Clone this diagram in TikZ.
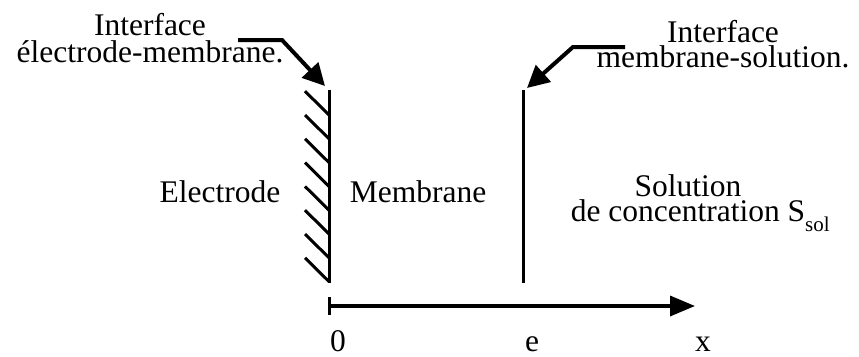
\documentclass[tikz,border=0pt]{standalone}
\usepackage{fontspec}
\setmainfont{Liberation Serif}
\usetikzlibrary{arrows.meta, positioning}

\begin{document}
\begin{tikzpicture}[
        x=1pt, y=-1pt,
        every node/.style={font=\fontsize{31.5}{26}\selectfont, inner sep=0pt},
        caption/.style={align=center, anchor=north},
        region/.style={anchor=base},
        wall/.style={line width=3pt},
        hatch/.style={line width=3pt},
        pointer/.style={-{Triangle[length=22pt,width=22pt]}, line width=4pt},
        axis/.style={-{Triangle[length=25pt,width=20pt]}, line width=3.5pt}
    ]
        \useasboundingbox (0,0) rectangle (859,356);

        % Interfaces
        \coordinate (elecTop) at (329,90);
        \coordinate (elecBot) at (329,283);
        \coordinate (membTop) at (523,90);
        \coordinate (membBot) at (523,283);
        \draw[wall] (elecTop) -- (elecBot);
        \draw[wall] (membTop) -- (membBot);
        \foreach \k in {0,...,7}
            \draw[hatch] (305,{91.2+23.8*\k}) -- (329,{115+23.8*\k});

        % Nodes
        \node[caption, font=\fontsize{31.5}{27}\selectfont] (ifaceElec) at (150,13) {Interface\\électrode-membrane.};
        \node[caption, font=\fontsize{31.5}{25}\selectfont] (ifaceSol) at (723,20) {Interface\\membrane-solution.};
        \node[region] (electrode) at (220,202) {Electrode};
        \node[region] (membrane) at (418,202) {Membrane};
        \node[caption, font=\fontsize{31.5}{25}\selectfont] (solution) at (688,174) {Solution\\de concentration S\rlap{\raisebox{-10pt}{\fontsize{21}{21}\selectfont sol}}};

        % Axis
        \coordinate (origin) at (329,306);
        \coordinate (xEnd) at (695,306);
        \coordinate (tickTop) at (329,297);
        \coordinate (tickBot) at (329,315);
        \draw[axis] (origin) -- (xEnd);
        \draw[wall] (tickTop) -- (tickBot);
        \node[region] (zero) at (338,351) {0};
        \node[region] (thick) at (532,351) {e};
        \node[region] (xlab) at (703,351) {x};

        % Arrows (Interfaces)
        \coordinate (elecFrom) at (238,40);
        \coordinate (elecBend) at (282,40);
        \coordinate (elecTip) at (325,86);
        \coordinate (solFrom) at (625,47);
        \coordinate (solBend) at (573,47);
        \coordinate (solTip) at (527,88);
        \draw[pointer] (elecFrom) -- (elecBend) -- (elecTip);
        \draw[pointer] (solFrom) -- (solBend) -- (solTip);

    \end{tikzpicture}
\end{document}
